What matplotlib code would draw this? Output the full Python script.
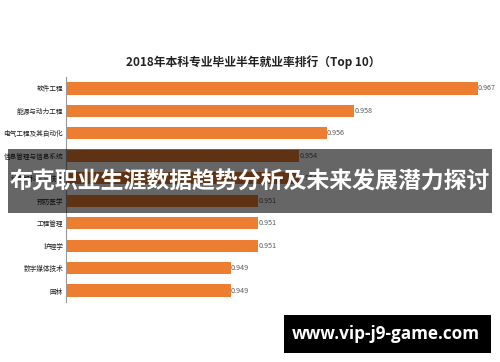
import matplotlib
matplotlib.use("Agg")
from matplotlib import pyplot as plt
from matplotlib.patches import Rectangle

plt.rcParams['font.family'] = ['Noto Sans CJK SC', 'DejaVu Sans']

majors = ['软件工程', '能源与动力工程', '电气工程及其自动化', '信息管理与信息系统', '计算机科学与技术',
          '预防医学', '工程管理', '护理学', '数字媒体技术', '园林']
rates = [0.967, 0.958, 0.956, 0.954, 0.954, 0.951, 0.951, 0.951, 0.949, 0.949]

title = '2018年本科专业毕业半年就业率排行（Top 10）'
banner = '布克职业生涯数据趋势分析及未来发展潜力探讨'
site = 'www.vip-j9-game.com'

fig = plt.figure(figsize=(5, 3.62), dpi=100)
ax = fig.add_axes([0.132, 0.166, 0.858, 0.621])

ypos = list(range(len(majors)))
ax.barh(ypos, rates, height=0.55, color='#ED7D31', left=0)
ax.set_xlim(0.937, 0.96826)
ax.set_ylim(len(majors) - 0.5, -0.5)
ax.set_yticks(ypos)
ax.set_yticklabels(majors, fontsize=4.8, color='#222222', fontweight='medium')
ax.set_xticks([])
ax.tick_params(axis='y', length=0, pad=2)
for s in ['top', 'right', 'bottom']:
    ax.spines[s].set_visible(False)
ax.spines['left'].set_color('#999999')
ax.spines['left'].set_linewidth(0.8)

for y, v in zip(ypos, rates):
    ax.text(v, y, f'{v:.3f}', va='center', ha='left', fontsize=5.2, color='#595959')

fig.text(0.507, 0.829, title, ha='center', va='center', fontsize=8.5,
         fontweight='bold', color='#222222')

# dark banner across the middle
fig.patches.append(Rectangle((0.016, 1 - 213 / 362), 0.968, 64 / 362, linewidth=0,
                             transform=fig.transFigure, facecolor='black', alpha=0.6, zorder=5))
fig.text(0.5, 1 - 182 / 362, banner, ha='center', va='center', fontsize=16.5,
         fontweight='bold', color='white', zorder=6)

# site box bottom right
fig.patches.append(Rectangle((284 / 500, 1 - 353 / 362), 207 / 500, 38 / 362, linewidth=0,
                             transform=fig.transFigure, facecolor='black', zorder=5))
fig.text(386 / 500, 1 - 334 / 362, site, ha='center', va='center', fontsize=12.3,
         fontweight='bold', color='white', family=['Open Sans', 'DejaVu Sans'], zorder=6)

fig.savefig('out.png', dpi=100)
